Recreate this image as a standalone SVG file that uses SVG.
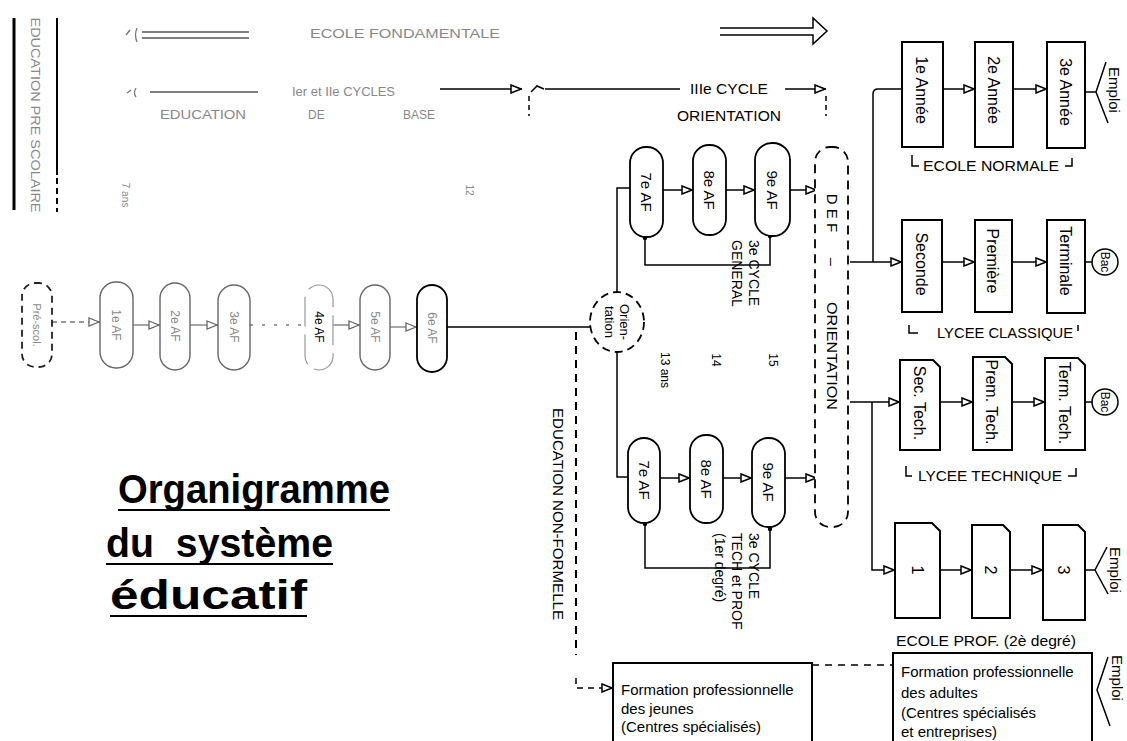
<svg xmlns="http://www.w3.org/2000/svg" width="1127" height="741" viewBox="0 0 1127 741">
<style>
.t{font-family:"Liberation Sans",Arial,sans-serif;fill:#000}
.f{fill:#888}
.ln{stroke:#000;stroke-width:1.5;fill:none}
.fl{stroke:#777;stroke-width:1.3;fill:none}
.dsh{stroke:#000;stroke-width:2;fill:none;stroke-dasharray:8 6}
.box{fill:#fff;stroke:#000;stroke-width:2}
.pill{fill:#fff;stroke:#000;stroke-width:1.8}
.fpill{fill:#fff;stroke:#666;stroke-width:1.4}
</style>
<defs>
<marker id="tri" viewBox="0 0 12 10" refX="12" refY="5" markerWidth="12" markerHeight="10" markerUnits="userSpaceOnUse" orient="auto"><path d="M1,1 L11,5 L1,9 Z" fill="#fff" stroke="#000" stroke-width="1.5"/></marker>
<marker id="trig" viewBox="0 0 12 10" refX="12" refY="5" markerWidth="12" markerHeight="10" markerUnits="userSpaceOnUse" orient="auto"><path d="M1,1 L11,5 L1,9 Z" fill="#fff" stroke="#666" stroke-width="1.3"/></marker>
<marker id="dot" viewBox="0 0 6 6" refX="3" refY="3" markerWidth="6" markerHeight="6" markerUnits="userSpaceOnUse"><circle cx="3" cy="3" r="2.2" fill="#000"/></marker>
</defs>
<rect width="1127" height="741" fill="#fff"/>

<!-- header / legends -->
<g id="preschool-legend">
<line x1="14" y1="18" x2="14" y2="210" stroke="#000" stroke-width="3"/>
<line x1="57" y1="18" x2="57" y2="175" stroke="#000" stroke-width="2"/>
<line x1="57" y1="178" x2="57" y2="212" stroke="#000" stroke-width="2" stroke-dasharray="6 4"/>
<text class="t f" font-size="12" transform="translate(35,115) rotate(90)" x="0" y="4" text-anchor="middle" textLength="195" lengthAdjust="spacingAndGlyphs">EDUCATION PRE SCOLAIRE</text>
</g>
<g id="ecole-fondamentale">
<path d="M130,30 L126,35 M137,28 Q134,35 137,42" class="fl"/>
<line x1="142" y1="32" x2="249" y2="32" stroke="#555" stroke-width="1.5"/>
<line x1="142" y1="38" x2="249" y2="38" stroke="#555" stroke-width="1.5"/>
<text class="t f" font-size="12" x="310" y="38" textLength="190" lengthAdjust="spacingAndGlyphs">ECOLE FONDAMENTALE</text>
<path d="M720,28 H813 V18 L827,31 L813,44 V35 H720" fill="#fff" stroke="#000" stroke-width="1.5"/>
</g>
<g id="cycles-legend">
<path d="M131,90 L127,93 M136,88 Q133,93 136,97" class="fl"/>
<line x1="150" y1="92" x2="258" y2="92" stroke="#555" stroke-width="1.5"/>
<text class="t f" font-size="12" x="292" y="96" textLength="103" lengthAdjust="spacingAndGlyphs">Ier et IIe CYCLES</text>
<text class="t f" font-size="12" x="160" y="119" textLength="86" lengthAdjust="spacingAndGlyphs">EDUCATION</text>
<text class="t f" font-size="12" x="308" y="119">DE</text>
<text class="t f" font-size="12" x="403" y="119" textLength="32" lengthAdjust="spacingAndGlyphs">BASE</text>
<line x1="440" y1="89" x2="522" y2="89" class="ln" marker-end="url(#tri)"/>
<path d="M531,92 L537,86 L544,89" class="ln"/>
<line x1="529" y1="96" x2="529" y2="116" class="ln" stroke-dasharray="5 4"/>
<line x1="545" y1="89" x2="680" y2="89" class="ln"/>
<text class="t" font-size="14" x="690" y="94" textLength="78" lengthAdjust="spacingAndGlyphs">IIIe CYCLE</text>
<text class="t" font-size="14" x="677" y="121" textLength="104" lengthAdjust="spacingAndGlyphs">ORIENTATION</text>
<line x1="785" y1="89" x2="826" y2="89" class="ln" marker-end="url(#tri)"/>
<line x1="826" y1="96" x2="826" y2="116" class="ln" stroke-dasharray="5 4"/>
</g>

<!-- faint ages -->
<g id="ages">
<text class="t f" font-size="10" transform="translate(125,195) rotate(90)" x="0" y="3" text-anchor="middle">7 ans</text>
<text class="t f" font-size="10" transform="translate(469,190) rotate(90)" x="0" y="3" text-anchor="middle">12</text>
<text class="t" font-size="12" transform="translate(665,370) rotate(90)" x="0" y="4" text-anchor="middle">13 ans</text>
<text class="t" font-size="12" transform="translate(716,360) rotate(90)" x="0" y="4" text-anchor="middle">14</text>
<text class="t" font-size="12" transform="translate(773,360) rotate(90)" x="0" y="4" text-anchor="middle">15</text>
</g>

<!-- connectors -->
<g id="connectors">
<line x1="52" y1="322" x2="100" y2="322" class="fl" stroke-dasharray="5 4" marker-end="url(#trig)"/>
<line x1="133" y1="325" x2="160" y2="325" class="fl" marker-end="url(#trig)"/>
<line x1="190" y1="325" x2="218" y2="325" class="fl" marker-end="url(#trig)"/>
<line x1="250" y1="325" x2="305" y2="325" class="fl" stroke-dasharray="3 9"/>
<line x1="333" y1="325" x2="360" y2="325" class="fl" marker-end="url(#trig)"/>
<line x1="390" y1="327" x2="417" y2="327" class="fl" marker-end="url(#trig)"/>
<line x1="447" y1="327" x2="591" y2="327" class="ln"/>
<line x1="576" y1="332" x2="576" y2="655" class="dsh"/>
<path d="M576,678 V688 H613" class="ln" stroke-dasharray="6 5" marker-end="url(#tri)"/>
<path d="M617,292 V188 H630" class="ln"/>
<path d="M617,352 V477 H628" class="ln"/>
<line x1="663" y1="190" x2="693" y2="190" class="ln" marker-end="url(#tri)"/>
<line x1="726" y1="190" x2="755" y2="190" class="ln" marker-end="url(#tri)"/>
<line x1="790" y1="190" x2="817" y2="190" class="ln" marker-end="url(#tri)"/>
<path d="M770,236 V265 H645 V238" class="ln" marker-start="url(#dot)" marker-end="url(#dot)"/>
<line x1="660" y1="478" x2="690" y2="478" class="ln" marker-end="url(#tri)"/>
<line x1="723" y1="478" x2="752" y2="478" class="ln" marker-end="url(#tri)"/>
<line x1="785" y1="478" x2="817" y2="478" class="ln" marker-end="url(#tri)"/>
<path d="M770,529 V568 H645 V524" class="ln" marker-start="url(#dot)" marker-end="url(#dot)"/>
<path d="M902,89 H878 Q873,89 873,94 V262" class="ln" marker-start="url(#tri)"/>
<line x1="850" y1="262" x2="902" y2="262" class="ln" marker-end="url(#tri)"/>
<line x1="942" y1="262" x2="975" y2="262" class="ln" marker-end="url(#tri)"/>
<line x1="1012" y1="262" x2="1047" y2="262" class="ln" marker-end="url(#tri)"/>
<line x1="1085" y1="262" x2="1092" y2="262" class="ln"/>
<line x1="943" y1="89" x2="975" y2="89" class="ln" marker-end="url(#tri)"/>
<line x1="1013" y1="89" x2="1047" y2="89" class="ln" marker-end="url(#tri)"/>
<line x1="850" y1="402" x2="900" y2="402" class="ln" marker-end="url(#tri)"/>
<line x1="940" y1="402" x2="973" y2="402" class="ln" marker-end="url(#tri)"/>
<line x1="1012" y1="402" x2="1045" y2="402" class="ln" marker-end="url(#tri)"/>
<line x1="1085" y1="402" x2="1092" y2="402" class="ln"/>
<path d="M872,402 V570 H895" class="ln" marker-end="url(#tri)"/>
<line x1="940" y1="570" x2="972" y2="570" class="ln" marker-end="url(#tri)"/>
<line x1="1010" y1="570" x2="1043" y2="570" class="ln" marker-end="url(#tri)"/>
<line x1="812" y1="665" x2="893" y2="665" class="ln" stroke-dasharray="7 6"/>
</g>

<!-- left chain -->
<g id="prescol"><rect x="22" y="283" width="30" height="84" rx="13" fill="#fff" stroke="#222" stroke-width="1.8" stroke-dasharray="7 5"/><text class="t f" font-size="11" transform="translate(37,325) rotate(90)" x="0" y="4" text-anchor="middle">Pré-scol.</text></g>
<g id="af1"><rect x="100" y="282" width="33" height="86" rx="16" class="fpill"/><text class="t f" font-size="12" transform="translate(116,325) rotate(90)" x="0" y="4" text-anchor="middle">1e AF</text></g>
<g id="af2"><rect x="160" y="283" width="30" height="87" rx="15" class="fpill"/><text class="t f" font-size="12" transform="translate(175,326) rotate(90)" x="0" y="4" text-anchor="middle">2e AF</text></g>
<g id="af3"><rect x="218" y="285" width="32" height="85" rx="16" class="fpill"/><text class="t f" font-size="12" transform="translate(234,327) rotate(90)" x="0" y="4" text-anchor="middle">3e AF</text></g>
<g id="af4"><rect x="305" y="285" width="28" height="85" rx="14" fill="#fff" stroke="#999" stroke-width="1.2" stroke-dasharray="30 8"/><text class="t" font-size="12" fill="#bbb" transform="translate(319,327) rotate(90)" x="0" y="4" text-anchor="middle">4e AF</text></g>
<g id="af5"><rect x="360" y="285" width="30" height="85" rx="15" class="fpill"/><text class="t f" font-size="12" transform="translate(375,327) rotate(90)" x="0" y="4" text-anchor="middle">5e AF</text></g>
<g id="af6"><rect x="417" y="285" width="30" height="87" rx="15" class="pill" stroke="#222"/><text class="t f" font-size="12" transform="translate(432,328) rotate(90)" x="0" y="4" text-anchor="middle">6e AF</text></g>

<g id="orientation">
<ellipse cx="617" cy="322" rx="27" ry="30" fill="#fff" stroke="#000" stroke-width="1.8" stroke-dasharray="8 5"/>
<text class="t" font-size="13" transform="translate(617,322) rotate(90)" text-anchor="middle"><tspan x="0" y="-3">Orien-</tspan><tspan x="0" y="12">tation</tspan></text>
</g>

<!-- upper 3e cycle general -->
<g id="af7g"><rect x="630" y="147" width="33" height="90" rx="16" class="pill"/><text class="t" font-size="15" transform="translate(646,192) rotate(90)" x="0" y="5" text-anchor="middle">7e AF</text></g>
<g id="af8g"><rect x="693" y="145" width="33" height="90" rx="16" class="pill"/><text class="t" font-size="15" transform="translate(709,190) rotate(90)" x="0" y="5" text-anchor="middle">8e AF</text></g>
<g id="af9g"><rect x="755" y="143" width="35" height="93" rx="17" class="pill"/><text class="t" font-size="15" transform="translate(772,190) rotate(90)" x="0" y="5" text-anchor="middle">9e AF</text></g>
<text class="t" font-size="14" transform="translate(745,240) rotate(90)"><tspan x="0" y="-4">3e CYCLE</tspan><tspan x="0" y="13">GENERAL</tspan></text>

<!-- lower 3e cycle tech -->
<g id="af7t"><rect x="628" y="438" width="32" height="85" rx="16" class="pill"/><text class="t" font-size="15" transform="translate(644,480) rotate(90)" x="0" y="5" text-anchor="middle">7e AF</text></g>
<g id="af8t"><rect x="690" y="435" width="33" height="88" rx="16" class="pill"/><text class="t" font-size="15" transform="translate(706,479) rotate(90)" x="0" y="5" text-anchor="middle">8e AF</text></g>
<g id="af9t"><rect x="752" y="438" width="33" height="89" rx="16" class="pill"/><text class="t" font-size="15" transform="translate(768,482) rotate(90)" x="0" y="5" text-anchor="middle">9e AF</text></g>
<text class="t" font-size="14" transform="translate(736,533) rotate(90)"><tspan x="0" y="-13">3e CYCLE</tspan><tspan x="0" y="4">TECH  et PROF</tspan><tspan x="0" y="21">(1er degré)</tspan></text>

<g id="def">
<rect x="815" y="147" width="33" height="380" rx="15" fill="#fff" stroke="#000" stroke-width="1.8" stroke-dasharray="9 6"/>
<text class="t" font-size="15" transform="translate(832,213) rotate(90)" x="0" y="5" text-anchor="middle">D E F</text>
<text class="t" font-size="15" transform="translate(832,262) rotate(90)" x="0" y="5" text-anchor="middle">–</text>
<text class="t" font-size="15" transform="translate(832,356) rotate(90)" x="0" y="5" text-anchor="middle" textLength="108" lengthAdjust="spacingAndGlyphs">ORIENTATION</text>
</g>

<text class="t" font-size="14" transform="translate(558,514) rotate(90)" x="0" y="5" text-anchor="middle" textLength="212" lengthAdjust="spacingAndGlyphs">EDUCATION NON-FORMELLE</text>

<!-- Ecole normale -->
<g id="normale1"><rect x="902" y="42" width="41" height="105" class="box"/><text class="t" font-size="16" transform="translate(922,90) rotate(90)" x="0" y="6" text-anchor="middle">1e Année</text></g>
<g id="normale2"><rect x="975" y="42" width="38" height="105" class="box"/><text class="t" font-size="16" transform="translate(994,90) rotate(90)" x="0" y="6" text-anchor="middle">2e Année</text></g>
<g id="normale3"><rect x="1047" y="42" width="38" height="106" class="box"/><text class="t" font-size="16" transform="translate(1066,92) rotate(90)" x="0" y="6" text-anchor="middle">3e Année</text></g>
<g id="emploi1"><path d="M1085,92 H1096 L1106,62 M1096,92 L1108,123" class="ln"/><text class="t" font-size="15" transform="translate(1114,90) rotate(90)" x="0" y="5" text-anchor="middle">Emploi</text></g>
<g id="label-normale"><path d="M912,155 V166 H919 M1072,158 V166 H1065" class="ln"/><text class="t" font-size="15" x="923" y="171" textLength="136" lengthAdjust="spacingAndGlyphs">ECOLE NORMALE</text></g>

<!-- Lycee classique -->
<g id="seconde"><rect x="902" y="220" width="40" height="92" class="box"/><text class="t" font-size="16" transform="translate(922,264) rotate(90)" x="0" y="6" text-anchor="middle">Seconde</text></g>
<g id="premiere"><rect x="975" y="220" width="37" height="92" class="box"/><text class="t" font-size="16" transform="translate(993,261) rotate(90)" x="0" y="6" text-anchor="middle">Première</text></g>
<g id="terminale"><rect x="1047" y="220" width="38" height="93" class="box"/><text class="t" font-size="16" transform="translate(1066,261) rotate(90)" x="0" y="6" text-anchor="middle">Terminale</text></g>
<g id="bac1"><circle cx="1105" cy="262" r="13" fill="#fff" stroke="#000" stroke-width="1.5"/><text class="t" font-size="12" transform="translate(1105,262) rotate(90)" x="0" y="4" text-anchor="middle">Bac</text></g>
<g id="label-classique"><path d="M909,325 V333 H918 M1078,325 V331" class="ln"/><text class="t" font-size="15" x="937" y="338" textLength="136" lengthAdjust="spacingAndGlyphs">LYCEE CLASSIQUE</text></g>

<!-- Lycee technique -->
<g id="sectech"><path d="M900,360 H933 L940,367 V450 H900 Z" class="box"/><text class="t" font-size="16" transform="translate(920,403) rotate(90)" x="0" y="6" text-anchor="middle">Sec. Tech.</text></g>
<g id="premtech"><path d="M973,357 H1005 L1012,364 V450 H973 Z" class="box"/><text class="t" font-size="16" transform="translate(992,402) rotate(90)" x="0" y="6" text-anchor="middle">Prem. Tech.</text></g>
<g id="termtech"><path d="M1045,358 H1078 L1085,365 V450 H1045 Z" class="box"/><text class="t" font-size="16" transform="translate(1065,403) rotate(90)" x="0" y="6" text-anchor="middle">Term. Tech.</text></g>
<g id="bac2"><circle cx="1105" cy="402" r="13" fill="#fff" stroke="#000" stroke-width="1.5"/><text class="t" font-size="12" transform="translate(1105,402) rotate(90)" x="0" y="4" text-anchor="middle">Bac</text></g>
<g id="label-technique"><path d="M906,466 V476 H912 M1076,468 V476 H1068" class="ln"/><text class="t" font-size="15" x="918" y="481" textLength="144" lengthAdjust="spacingAndGlyphs">LYCEE TECHNIQUE</text></g>

<!-- Ecole prof -->
<g id="prof1"><path d="M895,523 H932 L940,531 V618 H895 Z" class="box"/><text class="t" font-size="16" transform="translate(918,570) rotate(90)" x="0" y="6" text-anchor="middle">1</text></g>
<g id="prof2"><path d="M972,525 H1003 L1010,532 V618 H972 Z" class="box"/><text class="t" font-size="16" transform="translate(991,570) rotate(90)" x="0" y="6" text-anchor="middle">2</text></g>
<g id="prof3"><path d="M1043,525 H1078 L1085,532 V620 H1043 Z" class="box"/><text class="t" font-size="16" transform="translate(1064,570) rotate(90)" x="0" y="6" text-anchor="middle">3</text></g>
<g id="emploi2"><path d="M1085,570 H1095 L1107,547 M1095,570 L1108,594" class="ln"/><text class="t" font-size="15" transform="translate(1115,570) rotate(90)" x="0" y="5" text-anchor="middle">Emploi</text></g>
<text class="t" font-size="15" x="896" y="646" textLength="180" lengthAdjust="spacingAndGlyphs">ECOLE PROF. (2è degré)</text>

<!-- non-formal training -->
<g id="formation-jeunes"><rect x="613" y="663" width="199" height="90" class="box"/>
<text class="t" font-size="15"><tspan x="621" y="695">Formation professionnelle</tspan><tspan x="621" y="714">des jeunes</tspan><tspan x="621" y="732">(Centres spécialisés)</tspan></text></g>
<g id="formation-adultes"><rect x="893" y="653" width="199" height="100" class="box"/>
<text class="t" font-size="15"><tspan x="901" y="677">Formation professionnelle</tspan><tspan x="901" y="698">des adultes</tspan><tspan x="901" y="718">(Centres spécialisés</tspan><tspan x="901" y="737">et entreprises)</tspan></text></g>
<g id="emploi3"><path d="M1108,657 L1097,690 L1110,726" class="ln"/><text class="t" font-size="15" transform="translate(1117,678) rotate(90)" x="0" y="5" text-anchor="middle">Emploi</text></g>

<!-- title -->
<g id="title">
<text class="t" font-size="40" font-weight="bold" x="118" y="503" textLength="272" lengthAdjust="spacingAndGlyphs">Organigramme</text>
<line x1="118" y1="510" x2="390" y2="510" stroke="#000" stroke-width="2"/>
<text class="t" font-size="40" font-weight="bold" x="106" y="557" textLength="227" lengthAdjust="spacingAndGlyphs" xml:space="preserve">du  système</text>
<line x1="106" y1="564" x2="333" y2="564" stroke="#000" stroke-width="2"/>
<text class="t" font-size="40" font-weight="bold" x="110" y="609" textLength="197" lengthAdjust="spacingAndGlyphs">éducatif</text>
<line x1="110" y1="616" x2="307" y2="616" stroke="#000" stroke-width="2"/>
</g>
</svg>
